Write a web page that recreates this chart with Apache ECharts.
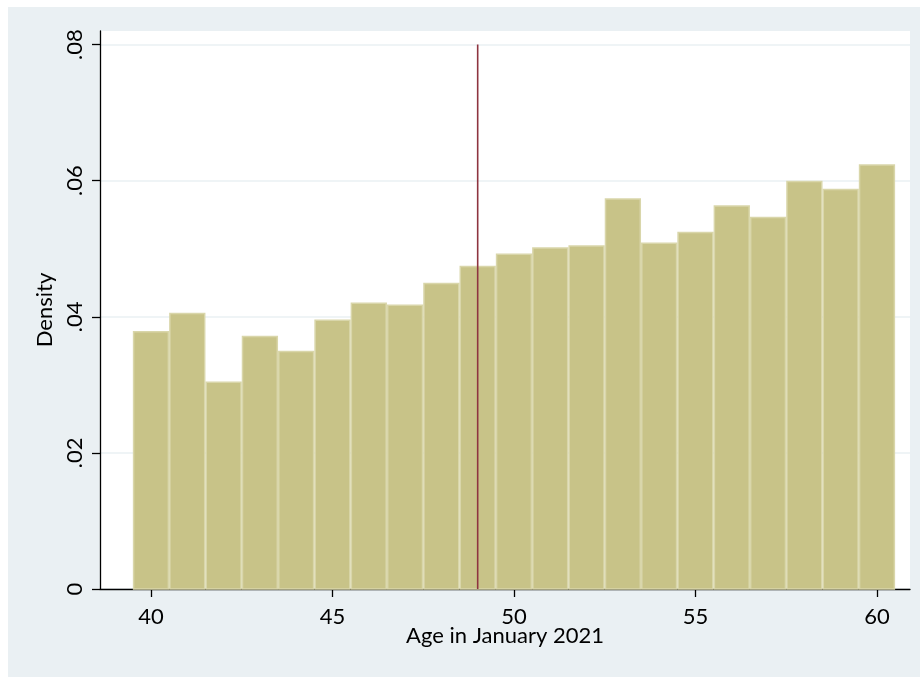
<!DOCTYPE html>
<html>
<head>
<meta charset="utf-8">
<script src="https://cdn.jsdelivr.net/npm/echarts@6/dist/echarts.min.js"></script>
<style>
html,body{margin:0;padding:0;background:#ffffff;}
#chart{width:920px;height:677px;}
</style>
</head>
<body>
<div id="chart"></div>
<script>
// Histogram bins: age (bin centres) and density
const ages = [40,41,42,43,44,45,46,47,48,49,50,51,52,53,54,55,56,57,58,59,60];
const density = [0.0378,0.0405,0.0304,0.0371,0.0349,0.0395,0.0420,0.0417,0.0449,0.0474,
                 0.0492,0.0501,0.0504,0.0573,0.0508,0.0524,0.0563,0.0546,0.0599,0.0587,0.0623];
const xTicks = [40,45,50,55,60];
const yTicks = [0,0.02,0.04,0.06,0.08];
const cutoffAge = 49;
const cutoffRange = [0,0.08];

const FONT = 'Lato';
const chart = echarts.init(document.getElementById('chart'), null, {renderer:'canvas'});

const barData = ages.map((a,i)=>[a,density[i]]);

const option = {
  backgroundColor:'#ffffff',
  animation:false,
  graphic:[{
    type:'rect', z:-10, silent:true,
    shape:{x:8,y:7,width:912,height:670},
    style:{fill:'#EAF0F3'}
  }],
  grid:{left:100,top:31,right:10,bottom:88,show:true,backgroundColor:'#ffffff',borderWidth:0},
  xAxis:{
    type:'value', min:38.595, max:60.91,
    name:'Age in January 2021', nameLocation:'middle', nameGap:36, nameMoveOverlap:false,
    nameTextStyle:{fontFamily:FONT,fontSize:22,color:'#000'},
    axisLine:{show:true,onZero:false,lineStyle:{color:'#000',width:1.3}},
    axisTick:{show:true,length:8,customValues:xTicks,lineStyle:{color:'#000',width:1.3}},
    axisLabel:{customValues:xTicks,fontFamily:FONT,fontSize:22,color:'#000',margin:17},
    splitLine:{show:false}
  },
  yAxis:{
    type:'value', min:0, max:0.082, interval:0.02,
    name:'Density', nameLocation:'middle', nameGap:44, nameMoveOverlap:false,
    nameTextStyle:{fontFamily:FONT,fontSize:22,color:'#000'},
    axisLine:{show:true,onZero:false,lineStyle:{color:'#000',width:1.3}},
    axisTick:{show:true,length:8,customValues:yTicks,lineStyle:{color:'#000',width:1.3}},
    axisLabel:{customValues:yTicks,rotate:90,fontFamily:FONT,fontSize:22,color:'#000',margin:14,
      formatter:v=> v===0 ? '0' : String(Number(v.toFixed(2))).replace(/^0/,'')},
    splitLine:{show:true,lineStyle:{color:'#EAF0F3',width:1.5}}
  },
  series:[{
    type:'custom',
    data:barData,
    renderItem:function(params,api){
      const x = api.value(0), v = api.value(1);
      const p0 = api.coord([x-0.5,0]);
      const p1 = api.coord([x+0.5,v]);
      return {
        type:'rect',
        shape:{x:p0[0]+0.75,y:p1[1],width:p1[0]-p0[0]-1.5,height:p0[1]-p1[1]},
        style:{fill:'#C8C388',stroke:'#D9D6AA',lineWidth:1.5}
      };
    },
    z:2
  },{
    type:'line',
    data:[[cutoffAge,cutoffRange[0]],[cutoffAge,cutoffRange[1]]],
    symbol:'none',
    lineStyle:{color:'#8E3440',width:1.6},
    z:3
  }]
};
chart.setOption(option);
</script>
</body>
</html>
